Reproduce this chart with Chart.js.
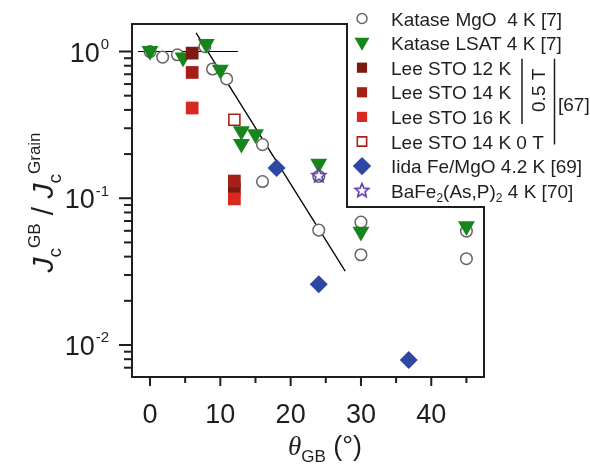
<!DOCTYPE html>
<html>
<head>
<meta charset="utf-8">
<script src="https://cdn.jsdelivr.net/npm/chart.js@4/dist/chart.umd.min.js"></script>
<style>
  html, body { margin: 0; padding: 0; background: #fff; }
</style>
</head>
<body>
<canvas id="chart" width="590" height="470"></canvas>
<script>
// ====================== DATA ======================
const mgoAngle  = [0, 1.8, 3.9, 7.8, 8.9, 10.9, 16, 16, 24, 24, 30, 30, 45, 45];
const mgoRatio  = [1.0, 0.916, 0.95, 1.08, 0.76, 0.65, 0.232, 0.13, 0.141, 0.0606, 0.0687, 0.0412, 0.0597, 0.0387];

const lsatAngle = [0, 4.7, 8.0, 10.0, 13.0, 13.0, 15.0, 24, 30, 45];
const lsatRatio = [1.01, 0.912, 1.125, 0.752, 0.287, 0.235, 0.273, 0.172, 0.0592, 0.0646];

const lee12Angle = [6, 12];
const lee12Ratio = [0.975, 0.116];
const lee14Angle = [6, 12];
const lee14Ratio = [0.72, 0.131];
const lee16Angle = [6, 12];
const lee16Ratio = [0.412, 0.099];
const lee0TAngle = [12];
const lee0TRatio = [0.343];

const iidaAngle = [18, 24, 36.8];
const iidaRatio = [0.161, 0.0259, 0.0079];

const bafeAngle = [24];
const bafeRatio = [0.142];

// guide lines
const fitAngle = [6.55, 27.76];
const fitRatio = [1.34, 0.0319];
const plateauAngle = [-1.7, 12.5];
const plateauRatio = [1.0, 1.0];

// axes
const xTickValues = [0, 5, 10, 15, 20, 25, 30, 35, 40, 45];
const xTickLabels = ['0', '', '10', '', '20', '', '30', '', '40', ''];
const yTickValues = [0.007, 0.008, 0.009, 0.01, 0.02, 0.03, 0.04, 0.05, 0.06, 0.07, 0.08, 0.09,
                     0.1, 0.2, 0.3, 0.4, 0.5, 0.6, 0.7, 0.8, 0.9, 1];
const yMajorValues = [1, 0.1, 0.01];
const yMajorExps   = ['0', '-1', '-2'];

const legendLabels = [
    [['Katase MgO  4 K [7]']],
    [['Katase LSAT 4 K [7]']],
    [['Lee STO 12 K']],
    [['Lee STO 14 K']],
    [['Lee STO 16 K']],
    [['Lee STO 14 K 0 T']],
    [['Iida Fe/MgO 4.2 K [69]']],
    [['BaFe'], ['2', 'sub'], ['(As,P)'], ['2', 'sub'], [' 4 K [70]']]
];

// ====================== STYLE ======================
const SANS = '"Liberation Sans", Arial, sans-serif';
const SERIF = '"Liberation Serif", "Times New Roman", serif';
const INK = '#1e1e1e';

function starImage(size, outer, inner, color) {
    const c = document.createElement('canvas');
    c.width = c.height = size;
    const g = c.getContext('2d');
    g.beginPath();
    for (let i = 0; i < 10; i++) {
        const r = i % 2 ? inner : outer;
        const a = -Math.PI / 2 + i * Math.PI / 5;
        g.lineTo(size / 2 + r * Math.cos(a), size / 2 + r * Math.sin(a));
    }
    g.closePath();
    g.fillStyle = '#fff';
    g.fill();
    g.lineWidth = 1.6;
    g.strokeStyle = color;
    g.stroke();
    return c;
}

const STAR = starImage(18, 7.2, 3.2, '#5b3aa8');

const zip = (xs, ys) => xs.map((x, i) => ({ x, y: ys[i] }));

const series = [
    { data: zip(mgoAngle, mgoRatio),   pointStyle: 'circle',   radius: 5.8, legendRadius: 5,   rotation: 0,   backgroundColor: '#ffffff', borderColor: '#666666', borderWidth: 1.5 },
    { data: zip(lsatAngle, lsatRatio), pointStyle: 'triangle', radius: 9.8, legendRadius: 8.6, rotation: 180, backgroundColor: '#17861a', borderColor: '#17861a', borderWidth: 0 },
    { data: zip(lee12Angle, lee12Ratio), pointStyle: 'rect',   radius: 9,   legendRadius: 7.2, rotation: 0,   backgroundColor: '#7a1a13', borderColor: '#7a1a13', borderWidth: 0 },
    { data: zip(lee14Angle, lee14Ratio), pointStyle: 'rect',   radius: 9,   legendRadius: 7.2, rotation: 0,   backgroundColor: '#a61f17', borderColor: '#a61f17', borderWidth: 0 },
    { data: zip(lee16Angle, lee16Ratio), pointStyle: 'rect',   radius: 9,   legendRadius: 7.2, rotation: 0,   backgroundColor: '#d9281d', borderColor: '#d9281d', borderWidth: 0 },
    { data: zip(lee0TAngle, lee0TRatio), pointStyle: 'rect',   radius: 7.8, legendRadius: 6.6, rotation: 0,   backgroundColor: '#ffffff', borderColor: '#b0201a', borderWidth: 1.6 },
    { data: zip(iidaAngle, iidaRatio), pointStyle: 'rectRot',  radius: 9,   legendRadius: 9.2, rotation: 0,   backgroundColor: '#2e47a2', borderColor: '#2e47a2', borderWidth: 0 },
    { data: zip(bafeAngle, bafeRatio), pointStyle: STAR,       radius: 8,   legendRadius: 8,   rotation: 0,   backgroundColor: '#ffffff', borderColor: '#5b3aa8', borderWidth: 0 }
];

const datasets = series.map((s, i) => ({
    data: s.data,
    pointStyle: s.pointStyle,
    pointRadius: s.radius,
    pointRotation: s.rotation,
    pointBackgroundColor: s.backgroundColor,
    pointBorderColor: s.borderColor,
    pointBorderWidth: s.borderWidth,
    order: series.length - i          // first series at the bottom, star on top
}));

datasets.push(
    { type: 'line', data: zip(fitAngle, fitRatio), showLine: true, pointRadius: 0, borderColor: '#000', borderWidth: 1.3, order: 20 },
    { type: 'line', data: zip(plateauAngle, plateauRatio), showLine: true, pointRadius: 0, borderColor: '#000', borderWidth: 1.2, order: 20 }
);

// ====================== DECORATION PLUGIN ======================
function drawRuns(ctx, runs, x, y, size) {
    // runs: [text, kind] with kind '', 'sub', 'sup', 'it', 'serif-it'
    let cx = x;
    for (const [text, kind] of runs) {
        let font = size + 'px ' + SANS, dy = 0;
        if (kind === 'sub') { font = Math.round(size * 0.63) + 'px ' + SANS; dy = size * 0.25; }
        if (kind === 'sup') { font = Math.round(size * 0.58) + 'px ' + SANS; dy = -size * 0.45; }
        if (kind === 'it') font = 'italic ' + size + 'px ' + SANS;
        if (kind === 'serif-it') font = 'italic ' + size + 'px ' + SERIF;
        ctx.font = font;
        ctx.fillText(text, cx, y + dy);
        cx += ctx.measureText(text).width;
    }
    return cx - x;
}

function runsWidth(ctx, runs, size) {
    ctx.save();
    ctx.globalAlpha = 0;
    const w = drawRuns(ctx, runs, 0, 0, size);
    ctx.restore();
    return w;
}

const decor = {
    id: 'decor',
    afterDraw(chart) {
        const { ctx, chartArea: a } = chart;
        const xs = chart.scales.x, ys = chart.scales.y;
        const boxLeft = 347, boxBottom = 207;

        ctx.save();
        ctx.strokeStyle = INK;
        ctx.fillStyle = INK;

        // frame notched around the legend
        ctx.lineWidth = 2;
        ctx.beginPath();
        ctx.moveTo(a.left, a.top);
        ctx.lineTo(boxLeft, a.top);
        ctx.lineTo(boxLeft, boxBottom);
        ctx.lineTo(a.right, boxBottom);
        ctx.lineTo(a.right, a.bottom);
        ctx.lineTo(a.left, a.bottom);
        ctx.closePath();
        ctx.stroke();

        // x ticks + labels
        ctx.textAlign = 'center';
        ctx.textBaseline = 'alphabetic';
        ctx.font = '27px ' + SANS;
        xTickValues.forEach((v, i) => {
            const px = xs.getPixelForValue(v);
            const major = xTickLabels[i] !== '';
            ctx.beginPath();
            ctx.moveTo(px, a.bottom);
            ctx.lineTo(px, a.bottom + (major ? 9 : 6));
            ctx.stroke();
            if (major) ctx.fillText(xTickLabels[i], px, a.bottom + 46);
        });

        // y ticks + labels
        yTickValues.forEach(v => {
            const py = ys.getPixelForValue(v);
            const major = yMajorValues.includes(v);
            ctx.beginPath();
            ctx.moveTo(a.left, py);
            ctx.lineTo(a.left - (major ? 13 : 8), py);
            ctx.stroke();
        });
        ctx.textAlign = 'right';
        yMajorValues.forEach((v, i) => {
            const py = ys.getPixelForValue(v);
            ctx.font = '15px ' + SANS;
            ctx.fillText(yMajorExps[i], 109, py - 2.5);
            const w = ctx.measureText(yMajorExps[i]).width;
            ctx.font = '27px ' + SANS;
            ctx.fillText('10', 109 - w - 1, py + 10);
        });

        // x title
        ctx.textAlign = 'left';
        const xTitle = [['\u03b8', 'serif-it'], ['GB', 'sub'], [' (\u00b0)', '']];
        const xw = runsWidth(ctx, xTitle, 27);
        drawRuns(ctx, xTitle, (a.left + a.right) / 2 + 17 - xw / 2, 455, 27);

        // y title (rotated)
        const yTitle = [['J', 'it'], ['c', 'sub'], ['GB', 'sup'], [' / ', ''], ['J', 'it'], ['c', 'sub'], ['Grain', 'sup']];
        const yw = runsWidth(ctx, yTitle, 30);
        ctx.save();
        ctx.translate(53, (a.top + a.bottom) / 2 + 2);
        ctx.rotate(-Math.PI / 2);
        drawRuns(ctx, yTitle, -yw / 2, 0, 30);
        ctx.restore();

        // legend
        const rowTop = 18.5, rowStep = 24.6, markX = 362, textX = 391;
        series.forEach((s, i) => {
            const cy = rowTop + i * rowStep;
            ctx.save();
            ctx.fillStyle = s.backgroundColor;
            ctx.strokeStyle = s.borderColor;
            ctx.lineWidth = s.borderWidth;
            Chart.helpers.drawPoint(ctx, {
                pointStyle: s.pointStyle, radius: s.legendRadius,
                rotation: s.rotation, borderWidth: s.borderWidth
            }, markX, cy + (s.pointStyle === 'triangle' ? -1 : 0));
            ctx.restore();
            ctx.textAlign = 'left';
            drawRuns(ctx, legendLabels[i], textX, cy + 7, 19);
        });

        // bracket for the 0.5 T group and the shared reference
        ctx.lineWidth = 1.5;
        ctx.beginPath();
        ctx.moveTo(522, rowTop + 2 * rowStep - 9);
        ctx.lineTo(522, rowTop + 4 * rowStep + 7);
        ctx.moveTo(554.5, rowTop + 2 * rowStep - 9);
        ctx.lineTo(554.5, rowTop + 5 * rowStep + 3);
        ctx.stroke();
        ctx.save();
        ctx.translate(545, rowTop + 3 * rowStep - 2);
        ctx.rotate(-Math.PI / 2);
        ctx.textAlign = 'center';
        ctx.font = '19px ' + SANS;
        ctx.fillText('0.5 T', 0, 0);
        ctx.restore();
        ctx.textAlign = 'left';
        ctx.font = '19px ' + SANS;
        ctx.fillText('[67]', 558, rowTop + 3.5 * rowStep + 6);

        ctx.restore();
    }
};

// ====================== CHART ======================
const ctx = document.getElementById('chart').getContext('2d');

new Chart(ctx, {
    type: 'scatter',
    data: { datasets },
    options: {
        responsive: false,
        animation: false,
        devicePixelRatio: 1,
        layout: { padding: { left: 132, right: 106, top: 24, bottom: 93 } },
        plugins: { legend: { display: false }, tooltip: { enabled: false } },
        scales: {
            x: { type: 'linear', min: -2.56, max: 47.5, display: false },
            y: { type: 'logarithmic', min: 0.00605, max: 1.54, display: false }
        }
    },
    plugins: [decor]
});
</script>
</body>
</html>
